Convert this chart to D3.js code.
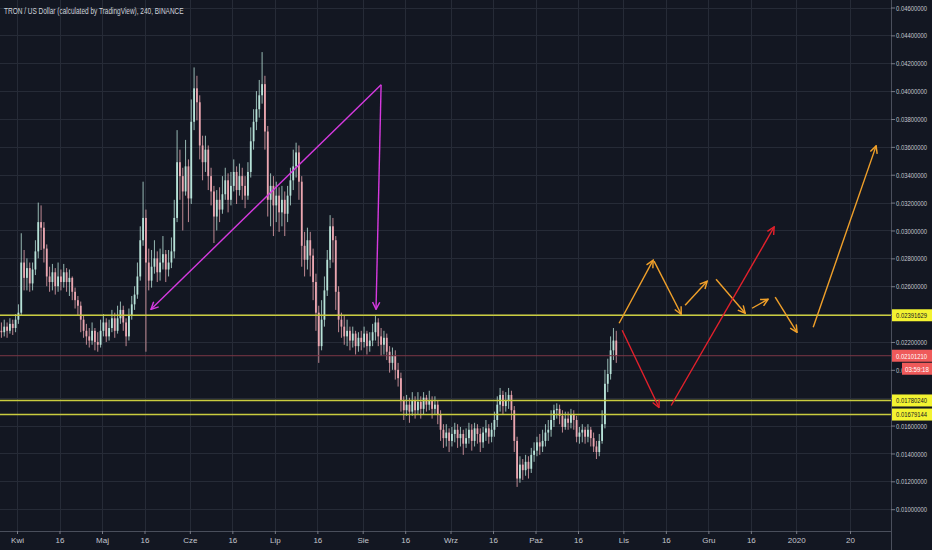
<!DOCTYPE html>
<html>
<head>
<meta charset="utf-8">
<script src="https://cdn.jsdelivr.net/npm/d3@7"></script>
<style>
  html, body { margin: 0; padding: 0; background: #131722; }
  svg { display: block; font-family: "Liberation Sans Narrow", "Liberation Sans", sans-serif; }
</style>
</head>
<body>
<div id="chart"></div>
<script>
const title = "TRON / US Dollar (calculated by TradingView), 240, BINANCE";

// one candle per day, starting at firstDay
const firstDay = "2019-03-26";
const firstOpen = 0.0228;
const closes = [
  0.0227, 0.0231, 0.0228, 0.0233, 0.0230, 0.0236, 0.0241, 0.0277, 0.0266, 0.0273,
  0.0262, 0.0272, 0.0285, 0.0306, 0.0302, 0.0287, 0.0267, 0.0263, 0.0270, 0.0260,
  0.0267, 0.0263, 0.0270, 0.0263, 0.0266, 0.0256, 0.0250, 0.0246, 0.0236, 0.0228,
  0.0224, 0.0221, 0.0228, 0.0220, 0.0218, 0.0228, 0.0234, 0.0224, 0.0230, 0.0237,
  0.0228, 0.0237, 0.0243, 0.0234, 0.0224, 0.0239, 0.0247, 0.0254, 0.0267, 0.0293,
  0.0309, 0.0277, 0.0264, 0.0274, 0.0280, 0.0270, 0.0277, 0.0283, 0.0272, 0.0277,
  0.0285, 0.0309, 0.0349, 0.0339, 0.0328, 0.0346, 0.0323, 0.0378, 0.0402, 0.0392,
  0.0361, 0.0349, 0.0358, 0.0339, 0.0328, 0.0310, 0.0322, 0.0315, 0.0326, 0.0336,
  0.0322, 0.0332, 0.0342, 0.0329, 0.0339, 0.0332, 0.0325, 0.0342, 0.0364, 0.0378,
  0.0387, 0.0397, 0.0405, 0.0371, 0.0322, 0.0332, 0.0318, 0.0325, 0.0313, 0.0322,
  0.0312, 0.0325, 0.0336, 0.0346, 0.0356, 0.0335, 0.0289, 0.0279, 0.0293, 0.0282,
  0.0263, 0.0241, 0.0217, 0.0236, 0.0257, 0.0279, 0.0303, 0.0293, 0.0256, 0.0236,
  0.0231, 0.0224, 0.0228, 0.0221, 0.0226, 0.0217, 0.0223, 0.0220, 0.0226, 0.0217,
  0.0221, 0.0227, 0.0234, 0.0224, 0.0218, 0.0223, 0.0213, 0.0205, 0.0210, 0.0200,
  0.0194, 0.0178, 0.0171, 0.0175, 0.0170, 0.0178, 0.0171, 0.0177, 0.0172, 0.0180,
  0.0175, 0.0178, 0.0172, 0.0175, 0.0168, 0.0157, 0.0151, 0.0155, 0.0149, 0.0154,
  0.0157, 0.0151, 0.0154, 0.0147, 0.0151, 0.0157, 0.0149, 0.0158, 0.0154, 0.0148,
  0.0155, 0.0158, 0.0152, 0.0157, 0.0164, 0.0175, 0.0182, 0.0174, 0.0178, 0.0182,
  0.0171, 0.0149, 0.0122, 0.0132, 0.0128, 0.0134, 0.0129, 0.0139, 0.0142, 0.0148,
  0.0145, 0.0149, 0.0155, 0.0157, 0.0164, 0.0171, 0.0172, 0.0167, 0.0159, 0.0165,
  0.0162, 0.0168, 0.0164, 0.0152, 0.0155, 0.0157, 0.0152, 0.0157, 0.0151, 0.0145,
  0.0141, 0.0149, 0.0161, 0.0190, 0.0197, 0.0214, 0.0221, 0.0210121
];
const highs = [
  0.0234, 0.0236, 0.0234, 0.0237, 0.0236, 0.0240, 0.0247, 0.0298, 0.0286, 0.0280,
  0.0277, 0.0277, 0.0293, 0.0320, 0.0318, 0.0306, 0.0290, 0.0274, 0.0276, 0.0273,
  0.0277, 0.0272, 0.0276, 0.0273, 0.0272, 0.0267, 0.0259, 0.0253, 0.0249, 0.0239,
  0.0233, 0.0230, 0.0234, 0.0230, 0.0227, 0.0236, 0.0240, 0.0237, 0.0236, 0.0243,
  0.0241, 0.0246, 0.0249, 0.0246, 0.0237, 0.0244, 0.0253, 0.0260, 0.0277, 0.0303,
  0.0335, 0.0315, 0.0287, 0.0286, 0.0293, 0.0285, 0.0287, 0.0296, 0.0286, 0.0286,
  0.0295, 0.0322, 0.0372, 0.0358, 0.0345, 0.0365, 0.0351, 0.0394, 0.0417, 0.0411,
  0.0397, 0.0368, 0.0368, 0.0361, 0.0345, 0.0332, 0.0329, 0.0331, 0.0339, 0.0345,
  0.0341, 0.0342, 0.0351, 0.0346, 0.0348, 0.0345, 0.0339, 0.0349, 0.0374, 0.0387,
  0.0400, 0.0408, 0.0428, 0.0411, 0.0375, 0.0341, 0.0339, 0.0335, 0.0331, 0.0332,
  0.0328, 0.0332, 0.0345, 0.0358, 0.0363, 0.0361, 0.0339, 0.0299, 0.0302, 0.0299,
  0.0287, 0.0269, 0.0246, 0.0250, 0.0267, 0.0286, 0.0311, 0.0309, 0.0296, 0.0260,
  0.0241, 0.0239, 0.0236, 0.0231, 0.0231, 0.0228, 0.0227, 0.0228, 0.0231, 0.0228,
  0.0227, 0.0233, 0.0239, 0.0237, 0.0230, 0.0228, 0.0226, 0.0217, 0.0216, 0.0214,
  0.0205, 0.0198, 0.0181, 0.0182, 0.0180, 0.0184, 0.0181, 0.0184, 0.0181, 0.0184,
  0.0182, 0.0185, 0.0181, 0.0181, 0.0178, 0.0171, 0.0161, 0.0161, 0.0158, 0.0159,
  0.0162, 0.0161, 0.0159, 0.0157, 0.0158, 0.0162, 0.0161, 0.0162, 0.0161, 0.0158,
  0.0159, 0.0164, 0.0161, 0.0162, 0.0170, 0.0181, 0.0187, 0.0185, 0.0184, 0.0187,
  0.0185, 0.0174, 0.0152, 0.0138, 0.0136, 0.0139, 0.0138, 0.0144, 0.0148, 0.0152,
  0.0154, 0.0157, 0.0161, 0.0164, 0.0171, 0.0175, 0.0176, 0.0175, 0.0171, 0.0170,
  0.0170, 0.0172, 0.0171, 0.0167, 0.0159, 0.0161, 0.0159, 0.0161, 0.0159, 0.0155,
  0.0149, 0.0154, 0.0171, 0.0200, 0.0208, 0.0224, 0.0230, 0.0228
];
const lows = [
  0.0223, 0.0224, 0.0223, 0.0226, 0.0225, 0.0227, 0.0233, 0.0239, 0.0257, 0.0257,
  0.0256, 0.0257, 0.0268, 0.0280, 0.0286, 0.0277, 0.0260, 0.0256, 0.0257, 0.0254,
  0.0256, 0.0257, 0.0259, 0.0256, 0.0253, 0.0250, 0.0244, 0.0239, 0.0227, 0.0223,
  0.0218, 0.0216, 0.0218, 0.0214, 0.0213, 0.0216, 0.0224, 0.0220, 0.0221, 0.0227,
  0.0223, 0.0226, 0.0233, 0.0228, 0.0217, 0.0221, 0.0236, 0.0243, 0.0251, 0.0264,
  0.0289, 0.0213, 0.0257, 0.0259, 0.0269, 0.0263, 0.0264, 0.0272, 0.0263, 0.0267,
  0.0273, 0.0280, 0.0306, 0.0322, 0.0300, 0.0325, 0.0306, 0.0319, 0.0372, 0.0379,
  0.0351, 0.0336, 0.0342, 0.0329, 0.0318, 0.0291, 0.0300, 0.0306, 0.0312, 0.0322,
  0.0313, 0.0318, 0.0328, 0.0319, 0.0325, 0.0322, 0.0316, 0.0322, 0.0338, 0.0358,
  0.0372, 0.0381, 0.0391, 0.0358, 0.0310, 0.0303, 0.0296, 0.0306, 0.0299, 0.0303,
  0.0296, 0.0306, 0.0318, 0.0329, 0.0338, 0.0322, 0.0274, 0.0267, 0.0272, 0.0267,
  0.0250, 0.0228, 0.0205, 0.0214, 0.0231, 0.0253, 0.0273, 0.0277, 0.0243, 0.0227,
  0.0223, 0.0218, 0.0217, 0.0214, 0.0216, 0.0211, 0.0213, 0.0214, 0.0216, 0.0211,
  0.0213, 0.0217, 0.0221, 0.0217, 0.0210, 0.0211, 0.0207, 0.0198, 0.0200, 0.0193,
  0.0188, 0.0170, 0.0164, 0.0167, 0.0162, 0.0167, 0.0165, 0.0168, 0.0165, 0.0168,
  0.0170, 0.0171, 0.0165, 0.0168, 0.0161, 0.0149, 0.0144, 0.0145, 0.0141, 0.0145,
  0.0148, 0.0144, 0.0145, 0.0139, 0.0144, 0.0147, 0.0142, 0.0145, 0.0147, 0.0141,
  0.0144, 0.0149, 0.0147, 0.0148, 0.0152, 0.0159, 0.0170, 0.0168, 0.0170, 0.0172,
  0.0164, 0.0141, 0.0116, 0.0119, 0.0121, 0.0124, 0.0122, 0.0126, 0.0134, 0.0138,
  0.0139, 0.0141, 0.0145, 0.0149, 0.0152, 0.0159, 0.0165, 0.0161, 0.0155, 0.0157,
  0.0157, 0.0158, 0.0157, 0.0148, 0.0147, 0.0148, 0.0147, 0.0148, 0.0145, 0.0141,
  0.0136, 0.0138, 0.0147, 0.0158, 0.0184, 0.0193, 0.0207, 0.0205
];

const priceTicks = [0.010, 0.012, 0.014, 0.016, 0.018, 0.020, 0.022, 0.024, 0.026, 0.028,
  0.030, 0.032, 0.034, 0.036, 0.038, 0.040, 0.042, 0.044, 0.046];
const tickDates = ["2019-04-01", "2019-04-16", "2019-05-01", "2019-05-16", "2019-06-01", "2019-06-16",
  "2019-07-01", "2019-07-16", "2019-08-01", "2019-08-16", "2019-09-01", "2019-09-16",
  "2019-10-01", "2019-10-16", "2019-11-01", "2019-11-16", "2019-12-01", "2019-12-16",
  "2020-01-01", "2020-01-20"];
const tickLabels = ["Kwi", "16", "Maj", "16", "Cze", "16", "Lip", "16", "Sie", "16", "Wrz", "16",
  "Paź", "16", "Lis", "16", "Gru", "16", "2020", "20"];

// horizontal levels drawn on the chart
const levels = [0.02391629, 0.01780240, 0.01679144];
const lastPrice = 0.02101210;
const countdown = "03:59:18";

// drawings: [time, price] points
const triangle = [
  [["2019-08-07T12:00", 0.04046], ["2019-05-18T07:00", 0.02434]],
  [["2019-08-07T12:00", 0.04046], ["2019-08-05T17:00", 0.02434]]
];
const orangeArrows = [
  [["2019-10-30T12:00", 0.02334], ["2019-11-11T12:00", 0.02787]],
  [["2019-11-11T20:00", 0.02780], ["2019-11-21T10:00", 0.02399]],
  [["2019-11-22T19:00", 0.02463], ["2019-11-30T14:00", 0.02636]],
  [["2019-12-03T17:00", 0.02650], ["2019-12-14T00:00", 0.02406]],
  [["2019-12-16T10:00", 0.02442], ["2019-12-22T02:00", 0.02507]],
  [["2019-12-24T14:00", 0.02521], ["2020-01-01T07:00", 0.02269]],
  [["2020-01-07T00:00", 0.02305], ["2020-01-29T05:00", 0.03607]]
];
const redArrows = [
  [["2019-10-31T14:00", 0.02284], ["2019-11-13T14:00", 0.01730]],
  [["2019-11-17T21:00", 0.01744], ["2019-12-24T05:00", 0.03025]]
];

const width = 932, height = 550;
const plotRight = 891, plotBottom = 531;
const upColor = "#b7e2d8", downColor = "#eba6b0";

const parseDay = d3.utcParse("%Y-%m-%d");
const parseTime = d3.utcParse("%Y-%m-%dT%H:%M");
const fmt = d3.format(".8f");

const x = d3.scaleUtc()
  .domain([parseDay("2019-04-01"), parseDay("2020-01-01")])
  .range([17, 796.2]);
const y = d3.scaleLinear()
  .domain([0.010, 0.046])
  .range([509.2, 7.5]);

const start = parseDay(firstDay);
const candles = closes.map((c, i) => ({
  t: d3.utcHour.offset(d3.utcDay.offset(start, i), 12),
  o: i ? closes[i - 1] : firstOpen,
  h: highs[i],
  l: lows[i],
  c: c
}));

// narrow the text horizontally to a given width (the chart uses a condensed face)
const squeeze = (sel, w, x0, y0) => sel.each(function() {
  const k = w / this.getComputedTextLength();
  d3.select(this)
    .attr("x", 0)
    .attr("y", 0)
    .attr("transform", `translate(${x0},${y0}) scale(${k},1)`);
});

const svg = d3.select("#chart").append("svg")
  .attr("width", width)
  .attr("height", height);

svg.append("rect")
  .attr("width", width)
  .attr("height", height)
  .attr("fill", "#131722");

// grid
svg.append("g")
  .attr("stroke", "#262b37")
  .selectAll()
  .data(priceTicks)
  .join("line")
    .attr("x1", 0)
    .attr("x2", plotRight)
    .attr("y1", d => Math.round(y(d)) + 0.5)
    .attr("y2", d => Math.round(y(d)) + 0.5);

svg.append("g")
  .attr("stroke", "#262b37")
  .selectAll()
  .data(tickDates)
  .join("line")
    .attr("x1", d => Math.round(x(parseDay(d))) + 0.5)
    .attr("x2", d => Math.round(x(parseDay(d))) + 0.5)
    .attr("y1", 0)
    .attr("y2", plotBottom);

// candles
const candleG = svg.append("g");
candleG.selectAll()
  .data(candles)
  .join("line")
    .attr("x1", d => x(d.t))
    .attr("x2", d => x(d.t))
    .attr("y1", d => y(d.h))
    .attr("y2", d => y(d.l))
    .attr("stroke", d => d.c >= d.o ? upColor : downColor)
    .attr("stroke-width", 0.8);

candleG.selectAll()
  .data(candles)
  .join("rect")
    .attr("x", d => x(d.t) - 0.9)
    .attr("width", 1.8)
    .attr("y", d => y(Math.max(d.o, d.c)))
    .attr("height", d => Math.max(1, Math.abs(y(d.o) - y(d.c))))
    .attr("fill", d => d.c >= d.o ? upColor : downColor);

// price lines
svg.append("line")
  .attr("x1", 0)
  .attr("x2", plotRight)
  .attr("y1", y(lastPrice))
  .attr("y2", y(lastPrice))
  .attr("stroke", "#7c3646")
  .attr("stroke-width", 1);

svg.append("g")
  .selectAll()
  .data(levels)
  .join("line")
    .attr("x1", 0)
    .attr("x2", plotRight)
    .attr("y1", d => y(d))
    .attr("y2", d => y(d))
    .attr("stroke", "#c9cc3f")
    .attr("stroke-width", 1.4);

// arrow heads
const defs = svg.append("defs");
const heads = { magenta: "#d63ae0", orange: "#f0a02a", red: "#e3212c" };
Object.entries(heads).forEach(([name, color]) => {
  defs.append("marker")
    .attr("id", "head-" + name)
    .attr("viewBox", "0 0 10 10")
    .attr("refX", 9)
    .attr("refY", 5)
    .attr("markerUnits", "userSpaceOnUse")
    .attr("markerWidth", 9)
    .attr("markerHeight", 9)
    .attr("orient", "auto")
    .append("path")
      .attr("d", "M1,1 L9,5 L1,9")
      .attr("fill", "none")
      .attr("stroke", color)
      .attr("stroke-width", 1.6);
});

const drawArrows = (data, name) => {
  svg.append("g")
    .selectAll()
    .data(data)
    .join("line")
      .attr("x1", d => x(parseTime(d[0][0])))
      .attr("y1", d => y(d[0][1]))
      .attr("x2", d => x(parseTime(d[1][0])))
      .attr("y2", d => y(d[1][1]))
      .attr("stroke", heads[name])
      .attr("stroke-width", 1.4)
      .attr("marker-end", `url(#head-${name})`);
};
drawArrows(triangle, "magenta");
drawArrows(orangeArrows, "orange");
drawArrows(redArrows, "red");

// axes
svg.append("line")
  .attr("x1", 0).attr("x2", plotRight)
  .attr("y1", plotBottom + 0.5).attr("y2", plotBottom + 0.5)
  .attr("stroke", "#4a4f5c");
svg.append("line")
  .attr("x1", plotRight + 0.5).attr("x2", plotRight + 0.5)
  .attr("y1", 0).attr("y2", height)
  .attr("stroke", "#4a4f5c");

// tick labels sitting under a price label are hidden, as on the original scale
const covered = v => levels.some(l => Math.abs(y(l) - y(v)) < 7);

const yAxis = svg.append("g")
  .attr("transform", `translate(${plotRight}, 0)`)
  .call(d3.axisRight(y).tickValues(priceTicks).tickFormat(fmt).tickSize(4).tickPadding(1));
yAxis.select(".domain").remove();
yAxis.selectAll("line").attr("stroke", "#787b86");
yAxis.selectAll(".tick").filter(covered).select("text").remove();
yAxis.selectAll("text")
  .attr("fill", "#c3c6ce")
  .attr("font-size", 8)
  .attr("font-family", null)
  .call(squeeze, 31, 5, 0);

const xAxis = svg.append("g")
  .attr("transform", `translate(0, ${plotBottom})`)
  .call(d3.axisBottom(x).tickValues(tickDates.map(parseDay))
    .tickFormat((d, i) => tickLabels[i]).tickSize(3).tickPadding(3));
xAxis.select(".domain").remove();
xAxis.selectAll("line").attr("stroke", "#787b86");
xAxis.selectAll("text")
  .attr("fill", "#c3c6ce")
  .attr("font-size", 8)
  .attr("font-family", null);

// price labels on the right scale
const labelG = svg.append("g").attr("font-size", 8);
levels.forEach(v => {
  labelG.append("rect")
    .attr("x", plotRight + 1).attr("y", y(v) - 6)
    .attr("width", width - plotRight - 1).attr("height", 12)
    .attr("fill", "#f3f331");
  labelG.append("text")
    .attr("dy", "0.35em")
    .attr("fill", "#131722")
    .text(fmt(v))
    .call(squeeze, 31, plotRight + 5, y(v));
});

labelG.append("rect")
  .attr("x", plotRight + 1).attr("y", y(lastPrice) - 6)
  .attr("width", width - plotRight - 1).attr("height", 12)
  .attr("fill", "#ef5a5a");
labelG.append("text")
  .attr("dy", "0.35em")
  .attr("fill", "#ffffff")
  .text(fmt(lastPrice))
  .call(squeeze, 31, plotRight + 5, y(lastPrice));

labelG.append("rect")
  .attr("x", plotRight + 11).attr("y", y(lastPrice) + 7)
  .attr("width", width - plotRight - 11).attr("height", 12)
  .attr("fill", "#ef5a5a");
labelG.append("text")
  .attr("dy", "0.35em")
  .attr("fill", "#ffffff")
  .text(countdown)
  .call(squeeze, 24, plotRight + 14, y(lastPrice) + 13);

// title
svg.append("text")
  .attr("fill", "#d1d4dc")
  .attr("font-size", 8.5)
  .text(title)
  .call(squeeze, 180, 4, 14);
</script>
</body>
</html>
